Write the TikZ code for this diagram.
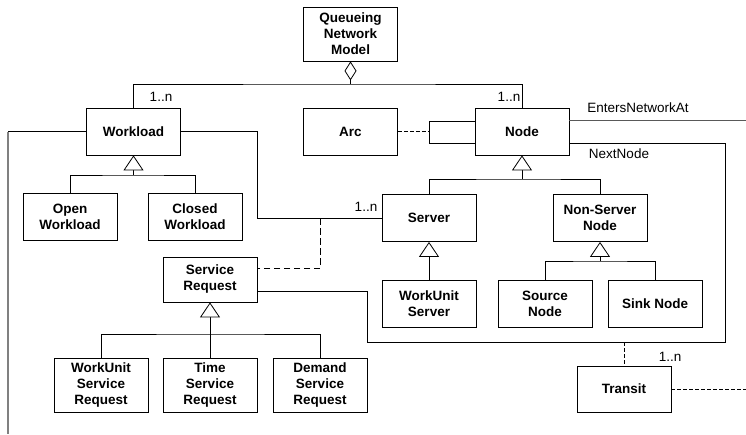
\documentclass[tikz,border=0pt]{standalone}
\usepackage{fontspec}
\setmainfont{Liberation Sans}
\usetikzlibrary{arrows.meta}
\begin{document}
\begin{tikzpicture}[x=1pt,y=-1pt,
  every path/.style={line width=0.8pt},
  cls/.style={draw, line width=0.8pt, rectangle, align=center, inner sep=0pt,
    minimum width=94pt, minimum height=47pt,
    font=\fontsize{13.5}{16}\selectfont\bfseries},
  lbl/.style={font=\fontsize{13.5}{16}\selectfont, inner sep=0pt},
  gen/.style={-{Triangle[open,length=15pt,width=20pt,fill=white]}},
  agg/.style={{Diamond[open,length=19pt,width=12pt,fill=white]}-},
  dep/.style={dash pattern=on 4pt off 2pt},
  deplong/.style={dash pattern=on 6.5pt off 3.5pt}]
\useasboundingbox (0,0) rectangle (746,434);

% classes
\node[cls, minimum height=54pt] (qnm) at (350.5,34) {Queueing\\Network\\Model};
\node[cls] (workload) at (133.5,131.5) {Workload};
\node[cls] (arc) at (350.5,131.5) {Arc};
\node[cls] (node) at (522,131.5) {Node};
\node[cls] (open) at (70,217) {Open\\Workload};
\node[cls] (closed) at (195,217) {Closed\\Workload};
\node[cls] (server) at (429,218) {Server};
\node[cls] (nonserver) at (600,218) {Non-Server\\Node};
\node[cls] (wus) at (429,303.5) {WorkUnit\\Server};
\node[cls] (source) at (545,303.5) {Source\\Node};
\node[cls] (sink) at (655,303.5) {Sink Node};
\node[cls, minimum height=45pt] (sreq) at (210,279.5) {Service\\Request};
\node[cls, minimum height=54pt] (wusr) at (101,385) {WorkUnit\\Service\\Request};
\node[cls, minimum height=54pt] (tsr) at (210,385) {Time\\Service\\Request};
\node[cls, minimum height=54pt] (dsr) at (320,385) {Demand\\Service\\Request};
\node[cls, minimum height=46pt] (transit) at (624,389) {Transit};

% aggregation of workloads and nodes into the model
\coordinate (hub) at (350.5,84);
\draw[agg] (qnm.south) -- (hub);
\draw (workload.north) |- (hub) -| (node.north);
\node[lbl] (m1) at (161,97) {1..n};
\node[lbl] (m2) at (509,97) {1..n};

% arcs between nodes
\coordinate (lp1) at (429,121);
\coordinate (lp2) at (429,143);
\draw (node.west |- lp1) -- (lp1) -- (lp2) -- (node.west |- lp2);
\draw[dep] (arc.east) -- (arc.east -| lp1);

% workload boundary
\coordinate (wl) at (8,131.5);
\coordinate (wlend) at (8,434);
\draw (workload.west) -- (wl);
\draw[line width=1.6pt, gray] (wl) -- (wlend);

% workload visits servers
\coordinate (ws) at (257,218);
\draw (workload.east) -| (ws) -- (server.west);
\node[lbl] (m3) at (366,207) {1..n};
\coordinate (dj) at (320,218);
\coordinate (dk) at (320,268);
\draw[deplong] (dj) -- (dk) -- (dk -| sreq.east);

% entry point
\coordinate (en) at (746,120);
\draw[gray!70!black] (en -| node.east) -- (en);
\node[lbl] (enl) at (638,108) {EntersNetworkAt};

% next node routing
\coordinate (nn1) at (725,143);
\coordinate (nn2) at (725,342);
\coordinate (nn3) at (367,342);
\coordinate (nn4) at (367,291);
\draw (nn1 -| node.east) -- (nn1) -- (nn2) -- (nn3) -- (nn4) -- (nn4 -| sreq.east);
\node[lbl] (nnl) at (619,154) {NextNode};

% transit
\coordinate (tj) at (624,342);
\draw[dep] (tj) -- (transit.north);
\node[lbl] (m4) at (670,357) {1..n};
\coordinate (te) at (746,389);
\draw[dep] (transit.east) -- (te);

% generalizations
\coordinate (wg) at (133.5,175);
\draw[gen] (wg) -- (workload.south);
\draw (open.north) |- (wg) -| (closed.north);

\coordinate (ng) at (522,179);
\draw[gen] (ng) -- (node.south);
\draw (server.north) |- (ng) -| (nonserver.north);

\draw[gen] (wus.north) -- (server.south);

\coordinate (nsg) at (600,261);
\draw[gen] (nsg) -- (nonserver.south);
\draw (source.north) |- (nsg) -| (sink.north);

\coordinate (sg) at (210,334);
\draw[gen] (tsr.north) -- (sreq.south);
\draw (wusr.north) |- (sg) -| (dsr.north);
\end{tikzpicture}
\end{document}
